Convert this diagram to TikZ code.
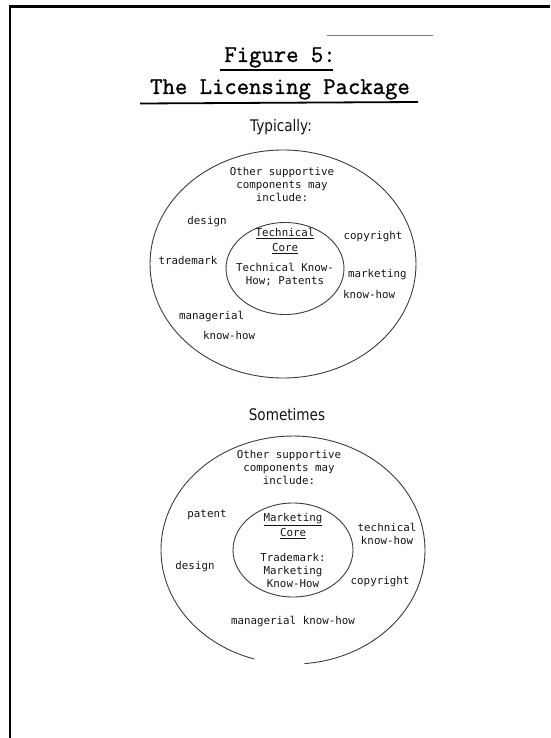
\documentclass[tikz,border=0pt]{standalone}
\usepackage{fontspec}
\newfontfamily\labfont{DejaVu Sans Mono}
\newfontfamily\hdfont[FakeStretch=0.85]{DejaVu Sans}
\newfontfamily\ttlfont[FakeBold=1.2]{Latin Modern Mono}
\definecolor{ink}{HTML}{141414}
\definecolor{rim}{HTML}{3C3C3C}
\tikzset{
  lab/.style={font=\labfont\fontsize{10.8}{13}\selectfont, text=ink, align=center, inner sep=0pt},
  hd/.style={font=\hdfont\fontsize{16}{18}\selectfont, text=ink, inner sep=0pt},
  ttl/.style={font=\ttlfont\fontsize{24}{28}\selectfont, text=black, inner sep=0pt, anchor=base},
  rimline/.style={draw=rim, line width=0.9pt},
}
\begin{document}
\begin{tikzpicture}[x=1pt,y=-1pt]
\useasboundingbox (0,0) rectangle (550,738);
% frame
\draw[line width=2.5pt] (10,738) -- (10,6.5) -- (550,6.5);
\draw[draw=gray, line width=0.7pt] (327,35) -- (433,35);
% title
\node[ttl] (fig) at (280,62) {Figure 5:};
\draw[line width=1.4pt] (220,70) -- (333,70);
\node[ttl] (pkg) at (280,94) {The Licensing Package};
\draw[line width=1.8pt] (140,103.5) -- (418,102);
% Typically
\node[hd] (typ) at (281,127) {Typically:};
\draw[rimline] (283,264) ellipse [x radius=133pt, y radius=114pt];
\draw[rimline] (285,268.5) ellipse [x radius=59pt, y radius=46pt];
\node[lab] (oth1) at (282,184) {Other supportive\\components may\\include:};
\node[lab] (des1) at (207,222) {design};
\node[lab] (tm1) at (188,260) {trademark};
\node[lab] (core1) at (285,241) {\underline{Technical}\\[2pt]\underline{Core}};
\node[lab] (tk1) at (285,275) {Technical Know-\\How; Patents};
\node[lab] (cop1) at (373,237) {copyright};
\node[lab, anchor=west] (mkt1) at (348,275) {marketing};
\node[lab, anchor=west] (mkh1) at (343,294) {know-how};
\node[lab, anchor=west] (mgr1) at (179,317) {managerial};
\node[lab, anchor=west] (mgh1) at (203,335) {know-how};
% Sometimes
\node[hd] (som) at (287,415) {Sometimes};
\draw[rimline] (304.5,663.6) arc [start angle=275, end angle=613, x radius=132pt, y radius=114pt];
\draw[rimline] (293,550) ellipse [x radius=60pt, y radius=47pt];
\node[lab] (oth2) at (289,467) {Other supportive\\components may\\include:};
\node[lab] (pat2) at (207,515) {patent};
\node[lab] (des2) at (195,567) {design};
\node[lab] (core2) at (293,526) {\underline{Marketing}\\[2pt]\underline{Core}};
\node[lab] (tk2) at (293,570) {Trademark:\\Marketing\\Know-How};
\node[lab] (tec2) at (387,534) {technical\\know-how};
\node[lab] (cop2) at (380,582) {copyright};
\node[lab] (mgr2) at (293,622) {managerial know-how};
\end{tikzpicture}
\end{document}
